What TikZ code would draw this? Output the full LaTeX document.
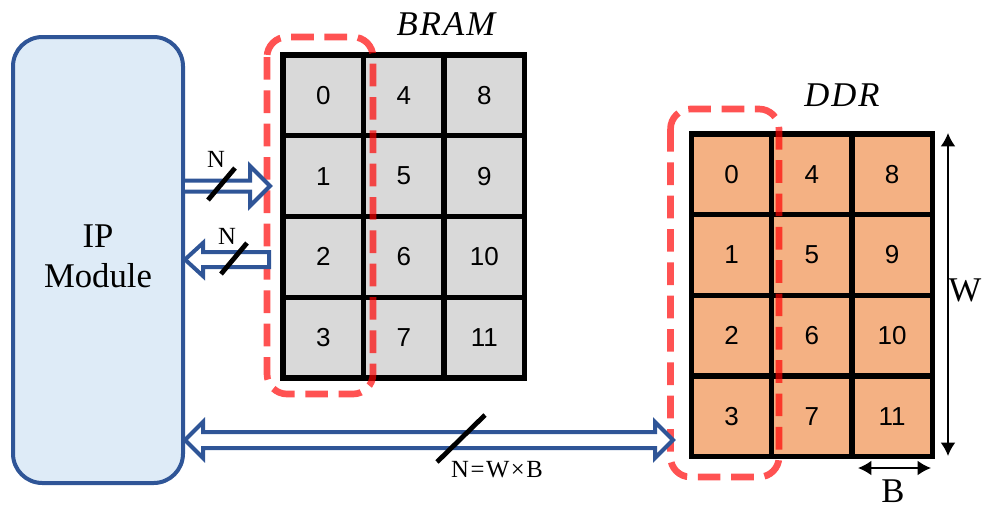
\documentclass[tikz,border=0pt]{standalone}
\usepackage{fontspec}
\setmainfont{Liberation Serif}
\newfontfamily\cellfont{Liberation Sans}
\newfontfamily\labfont[LetterSpace=6]{Liberation Serif}
\usetikzlibrary{arrows.meta}
\definecolor{ipfill}{HTML}{DEEBF7}
\definecolor{ipblue}{HTML}{2F5597}
\definecolor{cellgray}{HTML}{D9D9D9}
\definecolor{cellorange}{HTML}{F4B183}
\begin{document}
\begin{tikzpicture}[x=0.75pt,y=-0.75pt,
  ipbox/.style={draw=ipblue, line width=3pt, fill=ipfill, rounded corners=22pt},
  memcell/.style={draw=black, line width=4pt, minimum width=60.4pt, minimum height=60.5pt,
    inner sep=0pt, font=\cellfont\fontsize{19.5}{19.5}\selectfont},
  hollow/.style={draw=ipblue, line width=3pt, fill=white, line join=miter},
  buswidth/.style={draw=black, line width=3.6pt},
  groupbox/.style={draw=red, draw opacity=0.68, line width=5pt, rounded corners=15pt,
    dash pattern=on 17pt off 8pt},
  dimarrow/.style={draw=black, line width=1.2pt, {Latex[length=10pt,width=11pt]}-{Latex[length=10pt,width=11pt]}},
  smalllab/.style={font=\fontsize{18.5}{18.5}\selectfont, inner sep=0pt},
  biglab/.style={font=\fontsize{26}{30}\selectfont, inner sep=0pt},
  memtitle/.style={font=\labfont\itshape\fontsize{26}{26}\selectfont, inner sep=0pt}
]
\useasboundingbox (0,0) rectangle (985,508);

% IP module
\node[ipbox, minimum width=127.5pt, minimum height=334.5pt] (ip) at (98,260) {};
\node[biglab, align=center] (iptext) at (98,256) {IP\\Module};

% BRAM array (column-major numbering)
\foreach \c in {0,1,2}{
  \foreach \r in {0,1,2,3}{
    \pgfmathtruncatemacro\k{4*\c+\r}
    \node[memcell, fill=cellgray] (b\k) at ({323.3+80.5*\c},{95.4+80.75*\r}) {\k};
  }
}
\node[memtitle] (bramlab) at (446,24) {BRAM};

% DDR array
\foreach \c in {0,1,2}{
  \foreach \r in {0,1,2,3}{
    \pgfmathtruncatemacro\k{4*\c+\r}
    \node[memcell, fill=cellorange] (d\k) at ({731.5+80.3*\c},{174.2+80.75*\r}) {\k};
  }
}
\node[memtitle] (ddrlab) at (842,95) {DDR};

% first-column groups
\draw[groupbox] (267,37) rectangle (373,394);
\draw[groupbox] (670.5,109) rectangle (779,477);

% IP -> BRAM write port
\coordinate (w0) at (ip.east |- 0,186);
\coordinate (w1) at (270,186);
\draw[hollow] (w0 |- 0,180.5) -- (250,180.5) -- (250,166) -- (w1) -- (250,206)
  -- (250,191.5) -- (w0 |- 0,191.5);
\draw[buswidth] (208,200) -- (235,168);
\node[smalllab] (n1) at (216,159) {N};

% BRAM -> IP read port
\coordinate (r0) at (269,259.5);
\coordinate (r1) at (ip.east |- 0,259.5);
\draw[hollow] (r0 |- 0,252) -- (203,252) -- (203,243) -- (r1) -- (203,276)
  -- (203,267) -- (r0 |- 0,267) -- cycle;
\draw[buswidth] (221,274) -- (247,243);
\node[smalllab] (n2) at (227,236) {N};

% IP <-> DDR link
\coordinate (l0) at (ip.east |- 0,440);
\coordinate (l1) at (673,440);
\draw[hollow] (l0) -- (203,422) -- (203,432) -- (655,432) -- (655,422) -- (l1)
  -- (655,458) -- (655,448) -- (203,448) -- (203,458) -- cycle;
\draw[buswidth] (437,462) -- (485,415);
\node[smalllab] (n3) at (497,470) {N\kern1.2pt=\kern1.2ptW\kern1.2pt×\kern1.2ptB};

% DDR dimensions
\coordinate (wt) at (948,133);
\coordinate (wb) at (948,456);
\draw[dimarrow] (wt) -- (wb);
\node[biglab] (wlab) at (965,290) {W};
\coordinate (bl) at (858,468);
\coordinate (br) at (931,468);
\draw[dimarrow] (bl) -- (br);
\node[biglab] (blab) at (893,491) {B};
\end{tikzpicture}
\end{document}
